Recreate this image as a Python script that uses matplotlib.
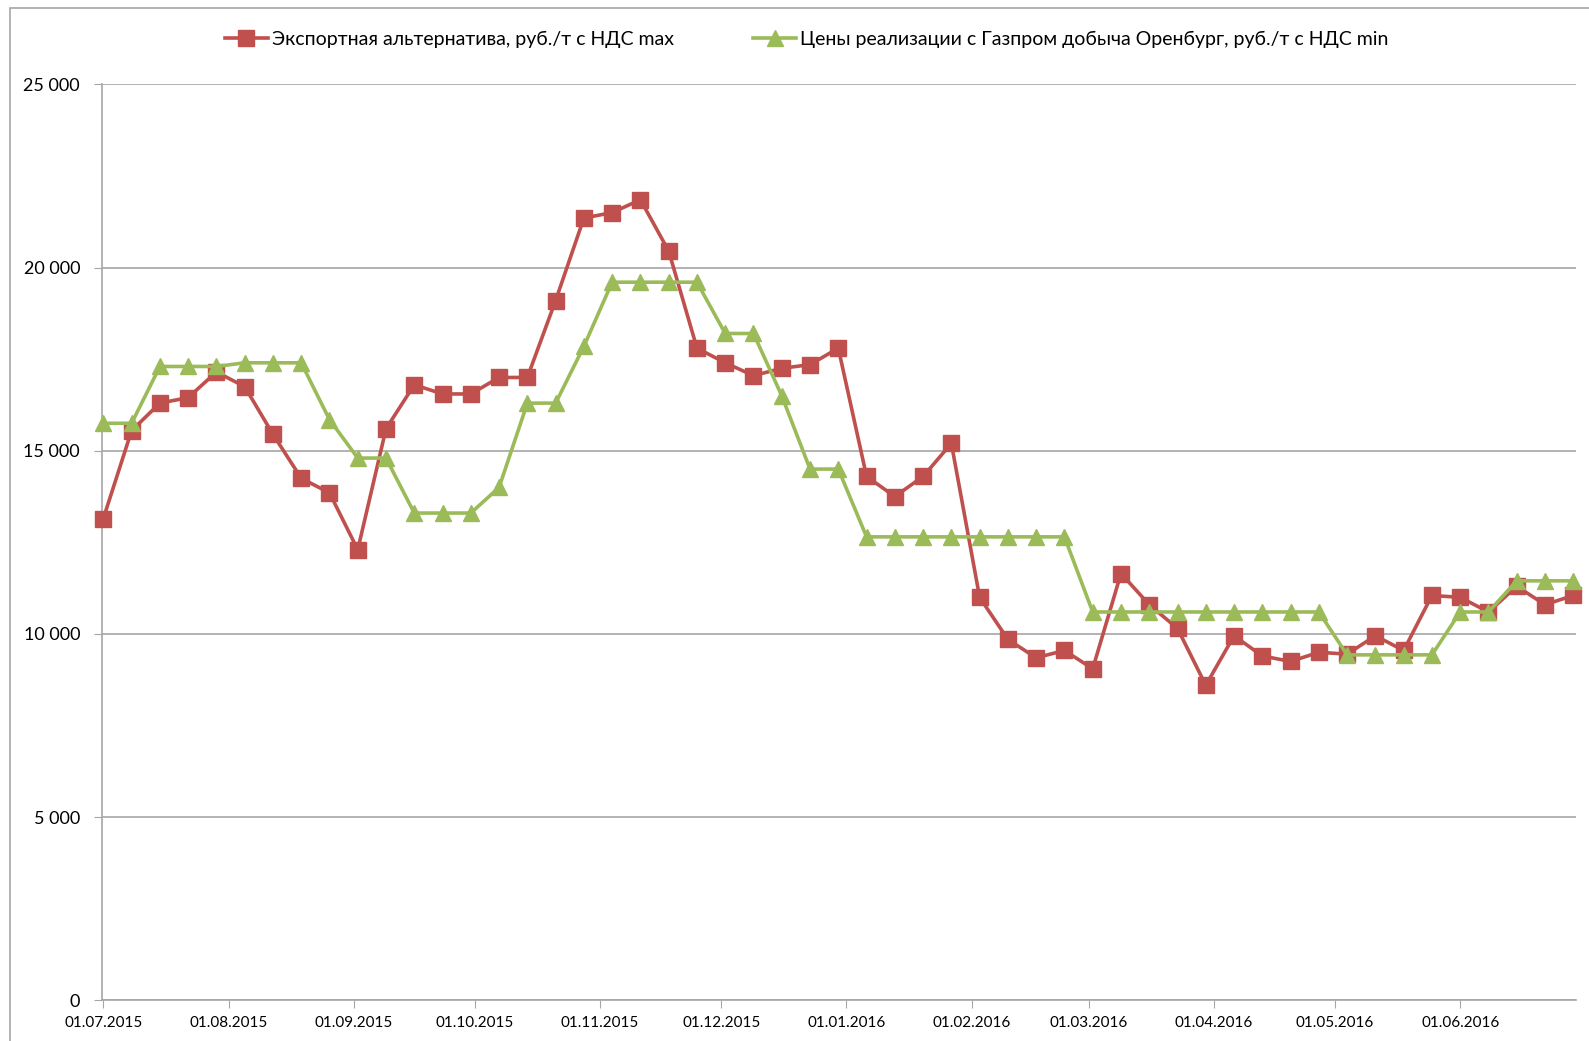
import numpy as np
import pandas as pd
import matplotlib
matplotlib.use("Agg")
import matplotlib.pyplot as plt
import matplotlib.dates as mdates
from matplotlib.ticker import FuncFormatter
from matplotlib.patches import Rectangle

# weekly observations, 01.07.2015 .. 29.06.2016
dates = pd.date_range("2015-07-01", periods=53, freq="7D")

export_alt = [13150, 15550, 16300, 16450, 17150, 16750, 15450, 14250, 13850, 12300,
              15600, 16800, 16550, 16550, 17000, 17000, 19100, 21350, 21500, 21850,
              20450, 17800, 17400, 17050, 17250, 17350, 17800, 14300, 13750, 14300,
              15200, 11000, 9850, 9350, 9550, 9050, 11650, 10800, 10150, 8600,
              9950, 9400, 9250, 9500, 9450, 9950, 9550, 11050, 11000, 10600,
              11300, 10800, 11050]

orenburg = [15750, 15750, 17300, 17300, 17300, 17400, 17400, 17400, 15850, 14800,
            14800, 13300, 13300, 13300, 14000, 16300, 16300, 17850, 19600, 19600,
            19600, 19600, 18200, 18200, 16500, 14500, 14500, 12650, 12650, 12650,
            12650, 12650, 12650, 12650, 12650, 10600, 10600, 10600, 10600, 10600,
            10600, 10600, 10600, 10600, 9430, 9430, 9430, 9430, 10600, 10600,
            11450, 11450, 11450]

labels = ["Экспортная альтернатива, руб./т с НДС max",
          "Цены реализации с Газпром добыча Оренбург, руб./т с НДС min"]

plt.rcParams['font.family'] = ['Lato', 'DejaVu Sans']

fig = plt.figure(figsize=(15.89, 10.41), dpi=100)
ax = fig.add_axes([0.0644, 0.039, 0.9276, 0.880])

ax.plot(dates, export_alt, color="#C0504D", lw=2.6, marker="s", ms=11,
        label=labels[0], zorder=3, clip_on=False)
ax.plot(dates, orenburg, color="#9BBB59", lw=2.6, marker="^", ms=11,
        label=labels[1], zorder=4, clip_on=False)

ax.set_ylim(0, 25000)
ax.set_yticks(np.arange(0, 25001, 5000))
ax.yaxis.set_major_formatter(FuncFormatter(lambda v, p: f"{int(v):,}".replace(",", " ")))
ax.set_xlim(mdates.date2num(pd.Timestamp("2015-06-30 18:00")),
            mdates.date2num(pd.Timestamp("2016-06-29 18:00")))
ax.xaxis.set_major_locator(mdates.MonthLocator(bymonthday=1))
ax.xaxis.set_major_formatter(mdates.DateFormatter("%d.%m.%Y"))

ax.grid(axis="y", color="#A6A6A6", lw=1.2)
ax.set_axisbelow(True)
for s in ["top", "right"]:
    ax.spines[s].set_visible(False)
for s in ["left", "bottom"]:
    ax.spines[s].set_color("#A6A6A6")
    ax.spines[s].set_linewidth(1.2)

ax.tick_params(axis="y", length=6, color="#A6A6A6", labelsize=13, pad=10)
ax.tick_params(axis="x", length=6, color="#A6A6A6", labelsize=11, pad=5)

fig.legend(loc="center", bbox_to_anchor=(0.5077, 0.962), ncol=2, frameon=False,
           fontsize=14, columnspacing=4.1, handlelength=2.2, handletextpad=0.2)

# outer chart frame
fig.patches.append(Rectangle((0.0064, -0.01), 1.1, 1.002, transform=fig.transFigure,
                             fill=False, edgecolor="#A6A6A6", lw=1.2))

fig.savefig("out.png", dpi=100)
